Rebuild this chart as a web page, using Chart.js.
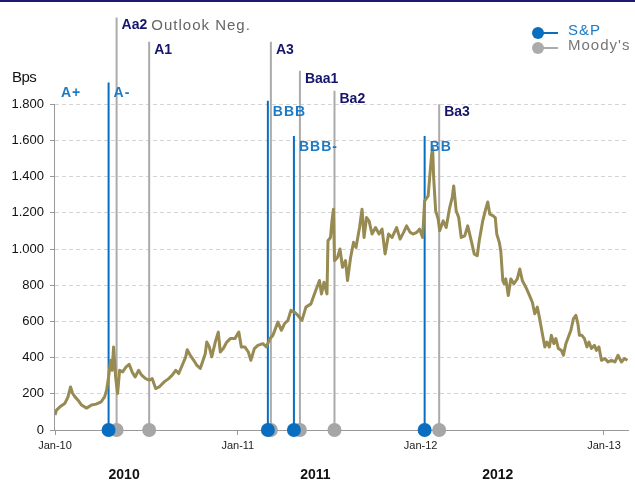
<!DOCTYPE html>
<html>
<head>
<meta charset="utf-8">
<script src="https://cdn.jsdelivr.net/npm/chart.js@4.4.1/dist/chart.umd.min.js"></script>
<style>
  html, body { margin: 0; padding: 0; background: #fff; }
  #wrap { width: 635px; height: 485px; }
</style>
</head>
<body>
<div id="wrap"><canvas id="myChart"></canvas></div>
<script>
// x values are days counted from 1 Jan 2010
var spreadDays = [0, 3, 10, 20, 26, 31, 35, 40, 46, 53,
    63, 73, 82, 92, 99, 103, 107, 111, 114, 117,
    121, 125, 129, 135, 142, 148, 154, 160, 167, 173,
    181, 188, 194, 201, 208, 218, 227, 234, 241, 247,
    254, 261, 264, 270, 277, 283, 290, 295, 300, 303,
    308, 313, 320, 326, 330, 336, 343, 350, 359, 367,
    372, 379, 386, 391, 398, 405, 415, 422, 429, 435,
    445, 452, 458, 465, 471, 478, 485, 493, 501, 511,
    518, 523, 528, 532, 537, 543, 545, 550, 553, 556,
    558, 564, 569, 574, 580, 584, 590, 596, 601, 608,
    613, 617, 622, 627, 633, 640, 647, 653, 659, 666,
    673, 682, 689, 696, 702, 709, 715, 722, 728, 734,
    738, 745, 748, 752, 754, 756, 760, 765, 768, 775,
    781, 788, 793, 796, 801, 806, 811, 818, 824, 831,
    837, 843, 847, 854, 859, 864, 868, 874, 879, 882,
    887, 890, 894, 897, 900, 905, 910, 916, 923, 928,
    933, 940, 946, 953, 958, 963, 967, 973, 978, 982,
    987, 991, 996, 1000, 1005, 1011, 1015, 1020, 1025, 1030,
    1035, 1040, 1044, 1047, 1052, 1057, 1062, 1066, 1071, 1077,
    1081, 1086, 1091, 1098, 1104, 1111, 1118, 1124, 1131, 1137,
    1143];
var spreadBps = [83, 110, 128, 148, 183, 238, 203, 183, 165, 138,
    121, 138, 143, 156, 183, 220, 293, 385, 330, 459,
    293, 202, 330, 321, 349, 363, 321, 293, 330, 303,
    284, 275, 284, 229, 238, 266, 284, 303, 330, 312,
    358, 404, 444, 413, 385, 358, 340, 380, 422, 486,
    459, 404, 486, 541, 431, 450, 486, 505, 505, 541,
    459, 459, 431, 385, 450, 468, 477, 459, 505, 523,
    596, 551, 587, 606, 661, 651, 633, 606, 679, 697,
    752, 789, 826, 752, 816, 752, 1046, 1064, 1156, 1220,
    936, 954, 1000, 899, 936, 826, 950, 1037, 1009, 1119,
    1220, 1064, 1174, 1156, 1083, 1119, 1083, 1110, 973, 1083,
    1064, 1119, 1055, 1092, 1128, 1092, 1083, 1092, 1110, 1064,
    1266, 1294, 1394, 1523, 1560, 1394, 1211, 1165, 1101, 1156,
    1119, 1229, 1284, 1349, 1211, 1174, 1064, 1073, 1128, 1046,
    973, 963, 1046, 1156, 1211, 1260, 1193, 1185, 1174, 1083,
    1037, 991, 826, 808, 835, 743, 835, 808, 835, 890,
    826, 789, 752, 706, 642, 679, 624, 532, 459, 486,
    459, 523, 477, 505, 450, 440, 413, 477, 514, 551,
    615, 633, 587, 523, 523, 505, 459, 486, 450, 468,
    440, 459, 385, 395, 376, 385, 376, 413, 376, 395,
    385];

var tickDays = [0, 365, 730, 1096];
var tickLabels = ['Jan-10', 'Jan-11', 'Jan-12', 'Jan-13'];
var yearLabels = ['2010', '2011', '2012'];
var yearDays = [138, 520, 884];

var spStart = 'A+';
var spNames = ['A-', 'BBB', 'BBB-', 'BB'];
var spDays = [107, 425, 477, 738];
var spTop = [1920, 1820, 1625, 1625];

var moodysNames = ['Aa2', 'A1', 'A3', 'Baa1', 'Ba2', 'Ba3'];
var moodysNotes = ['Outlook Neg.', '', '', '', '', ''];
var moodysDays = [123, 188, 431, 489, 558, 767];
var moodysTop = [2280, 2145, 2145, 1985, 1875, 1800];

var SP_BLUE = '#0A6EC0';
var SP_TEXT = '#1C7AC5';
var MOODY_GREY = '#ABABAB';
var MOODY_TEXT = '#15156B';
var FONT = "'Liberation Sans', Arial, sans-serif";

function stems(days, tops) {
    var pts = [];
    days.forEach(function (d, i) {
        pts.push({ x: d, y: 0 }, { x: d, y: tops[i] }, { x: d, y: null });
    });
    return pts;
}

function dotRadius(ctx) {
    return ctx.raw && ctx.raw.y === 0 ? 7 : 0;
}

function fmt(v) {
    return v >= 1000 ? Math.floor(v / 1000) + '.' + String(v % 1000).padStart(3, '0') : String(v);
}

var extras = {
    id: 'extras',
    beforeDatasetsDraw: function (chart) {
        var ctx = chart.ctx, ys = chart.scales.y, area = chart.chartArea;
        ctx.save();
        ctx.strokeStyle = '#999';
        ctx.lineWidth = 1;
        ctx.beginPath();
        ctx.moveTo(area.left - 0.5, ys.getPixelForValue(1800));
        ctx.lineTo(area.left - 0.5, ys.getPixelForValue(0));
        ctx.stroke();
        ctx.restore();
    },
    afterDraw: function (chart) {
        var ctx = chart.ctx, xs = chart.scales.x, ys = chart.scales.y, area = chart.chartArea;
        ctx.save();

        // navy rule at the very top
        ctx.strokeStyle = '#1b1b72';
        ctx.lineWidth = 2;
        ctx.beginPath();
        ctx.moveTo(0, 1);
        ctx.lineTo(chart.width, 1);
        ctx.stroke();

        ctx.textBaseline = 'middle';
        ctx.textAlign = 'left';

        // Moody's labels
        moodysNames.forEach(function (name, i) {
            var x = xs.getPixelForValue(moodysDays[i]) + 5;
            var y = ys.getPixelForValue(moodysTop[i]) + 8;
            ctx.font = 'bold 14px ' + FONT;
            ctx.fillStyle = MOODY_TEXT;
            ctx.letterSpacing = '0px';
            ctx.fillText(name, x, y);
            if (moodysNotes[i]) {
                var w = ctx.measureText(name).width;
                ctx.font = '15px ' + FONT;
                ctx.fillStyle = '#666';
                ctx.letterSpacing = '1px';
                ctx.fillText(moodysNotes[i], x + w + 4, y);
                ctx.letterSpacing = '0px';
            }
        });

        // S&P labels
        ctx.font = 'bold 14px ' + FONT;
        ctx.fillStyle = SP_TEXT;
        ctx.letterSpacing = '1px';
        spNames.forEach(function (name, i) {
            var x = xs.getPixelForValue(spDays[i]) + 5;
            var y = ys.getPixelForValue(spTop[i]) + 11;
            ctx.fillText(name, x, y);
        });
        ctx.fillText(spStart, area.left + 6, ys.getPixelForValue(spTop[0]) + 11);
        ctx.letterSpacing = '0px';

        // Bps unit
        ctx.font = '15px ' + FONT;
        ctx.fillStyle = '#111';
        ctx.letterSpacing = '-0.5px';
        ctx.fillText('Bps', 12, ys.getPixelForValue(1800) - 26);
        ctx.letterSpacing = '0px';

        // year captions
        ctx.font = 'bold 14px ' + FONT;
        ctx.textAlign = 'center';
        yearLabels.forEach(function (t, i) {
            ctx.fillText(t, xs.getPixelForValue(yearDays[i]), 475);
        });

        // legend
        var lx = chart.width - 97;
        [[SP_BLUE, SP_TEXT, 'S&P', 33], [MOODY_GREY, '#777', "Moody's", 48]].forEach(function (it) {
            ctx.strokeStyle = it[0];
            ctx.lineWidth = 2;
            ctx.beginPath();
            ctx.moveTo(lx, it[3]);
            ctx.lineTo(lx + 20, it[3]);
            ctx.stroke();
            ctx.fillStyle = it[0];
            ctx.beginPath();
            ctx.arc(lx, it[3], 6, 0, Math.PI * 2);
            ctx.fill();
            ctx.font = '15px ' + FONT;
            ctx.textAlign = 'left';
            ctx.fillStyle = it[1];
            ctx.letterSpacing = '1px';
            ctx.fillText(it[2], lx + 30, it[3] - 2);
        });
        ctx.restore();
    }
};

var ctx1 = document.getElementById('myChart').getContext('2d');
var myChart = new Chart(ctx1, {
    type: 'scatter',
    data: {
        datasets: [{
            label: 'Spread',
            data: spreadDays.map(function (d, i) { return { x: d, y: spreadBps[i] }; }),
            showLine: true,
            borderColor: '#978A52',
            borderWidth: 3,
            borderJoinStyle: 'round',
            pointRadius: 0,
            tension: 0
        }, {
            label: 'S&P',
            data: stems(spDays, spTop),
            showLine: true,
            spanGaps: false,
            borderColor: SP_BLUE,
            borderWidth: 2,
            pointRadius: dotRadius,
            pointHoverRadius: dotRadius,
            pointBackgroundColor: SP_BLUE,
            pointBorderWidth: 0,
            clip: false
        }, {
            label: "Moody's",
            data: stems(moodysDays, moodysTop),
            showLine: true,
            spanGaps: false,
            borderColor: MOODY_GREY,
            borderWidth: 2,
            pointRadius: dotRadius,
            pointHoverRadius: dotRadius,
            pointBackgroundColor: '#A6A6A6',
            pointBorderWidth: 0,
            clip: false
        }]
    },
    options: {
        responsive: true,
        maintainAspectRatio: false,
        animation: false,
        events: [],
        layout: { padding: { top: 12, right: 2, left: 0, bottom: 0 } },
        plugins: {
            legend: { display: false },
            tooltip: { enabled: false }
        },
        scales: {
            x: {
                type: 'linear',
                min: 0,
                max: 1144,
                afterBuildTicks: function (scale) {
                    scale.ticks = tickDays.map(function (v) { return { value: v }; });
                },
                afterFit: function (scale) { scale.height = 55; },
                ticks: {
                    autoSkip: false,
                    maxRotation: 0,
                    padding: 4,
                    color: '#222',
                    font: { family: FONT, size: 11 },
                    callback: function (value, index) { return tickLabels[index]; }
                },
                grid: {
                    drawOnChartArea: false,
                    drawTicks: true,
                    tickLength: 5,
                    tickColor: '#999'
                },
                border: { display: true, color: '#999', width: 1 }
            },
            y: {
                min: 0,
                max: 2300,
                afterBuildTicks: function (scale) {
                    var t = [];
                    for (var v = 0; v <= 1800; v += 200) t.push({ value: v });
                    scale.ticks = t;
                },
                afterFit: function (scale) { scale.width = 55; },
                ticks: {
                    padding: 6,
                    color: '#111',
                    font: { family: FONT, size: 13 },
                    callback: function (value) { return fmt(value); }
                },
                grid: {
                    color: '#d4d4d4',
                    lineWidth: 1,
                    tickLength: 5,
                    tickColor: '#999'
                },
                border: { display: false, dash: [4, 3] }
            }
        }
    },
    plugins: [extras]
});
</script>
</body>
</html>
